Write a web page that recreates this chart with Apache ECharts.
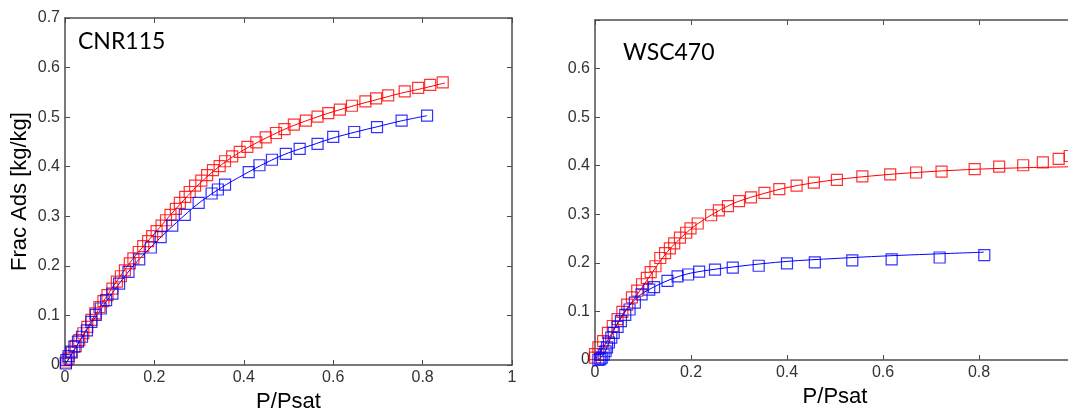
<!DOCTYPE html>
<html>
<head>
<meta charset="utf-8">
<script src="https://cdn.jsdelivr.net/npm/echarts@6/dist/echarts.min.js"></script>
<style>html,body{margin:0;padding:0;background:#fff;overflow:hidden;}#c{width:1068px;height:412px;}</style>
</head>
<body>
<div id="c"></div>
<script>
// ---------- DATA ----------
const xTicks = [0, 0.2, 0.4, 0.6, 0.8, 1];
const yTicks = [0, 0.1, 0.2, 0.3, 0.4, 0.5, 0.6, 0.7];
const panelTitles = ['CNR115', 'WSC470'];

// CNR115 – red squares (measured)
const cnrRedPts = [[0.002,0.005],[0.008,0.013],[0.015,0.025],[0.024,0.038],[0.032,0.050],[0.041,0.064],[0.050,0.077],[0.059,0.091],[0.068,0.104],[0.077,0.117],[0.086,0.129],[0.095,0.141],[0.106,0.154],[0.116,0.168],[0.125,0.179],[0.134,0.191],[0.145,0.205],[0.153,0.215],[0.165,0.228],[0.175,0.240],[0.186,0.250],[0.195,0.260],[0.205,0.270],[0.216,0.281],[0.226,0.292],[0.236,0.303],[0.248,0.315],[0.257,0.327],[0.269,0.339],[0.279,0.349],[0.291,0.362],[0.305,0.372],[0.318,0.383],[0.331,0.393],[0.346,0.401],[0.358,0.411],[0.374,0.421],[0.391,0.430],[0.408,0.440],[0.428,0.449],[0.449,0.459],[0.472,0.468],[0.491,0.476],[0.512,0.485],[0.539,0.493],[0.565,0.501],[0.589,0.508],[0.615,0.515],[0.642,0.523],[0.672,0.532],[0.696,0.538],[0.723,0.544],[0.760,0.552],[0.790,0.559],[0.817,0.565],[0.845,0.570]];
// CNR115 – red fit line
const cnrRedFit = [[0,0],[0.05,0.075],[0.1,0.148],[0.15,0.212],[0.2,0.265],[0.25,0.317],[0.3,0.365],[0.35,0.404],[0.4,0.434],[0.45,0.458],[0.5,0.479],[0.55,0.496],[0.6,0.511],[0.65,0.524],[0.7,0.536],[0.75,0.548],[0.8,0.558],[0.85,0.569]];
// CNR115 – blue squares
const cnrBluePts = [[0.002,0.003],[0.003,0.010],[0.008,0.018],[0.014,0.027],[0.021,0.037],[0.029,0.047],[0.038,0.057],[0.049,0.070],[0.059,0.087],[0.069,0.101],[0.080,0.114],[0.092,0.131],[0.106,0.144],[0.121,0.164],[0.142,0.188],[0.166,0.213],[0.192,0.237],[0.214,0.258],[0.240,0.281],[0.268,0.303],[0.299,0.327],[0.328,0.346],[0.342,0.354],[0.358,0.364],[0.411,0.389],[0.435,0.403],[0.463,0.414],[0.494,0.426],[0.525,0.436],[0.565,0.446],[0.600,0.460],[0.647,0.470],[0.698,0.480],[0.753,0.493],[0.810,0.503]];
// CNR115 – blue fit line
const cnrBlueFit = [[0,0],[0.05,0.072],[0.1,0.138],[0.15,0.197],[0.2,0.245],[0.25,0.288],[0.3,0.327],[0.35,0.358],[0.4,0.384],[0.45,0.408],[0.5,0.428],[0.55,0.443],[0.6,0.458],[0.65,0.470],[0.7,0.481],[0.75,0.492],[0.81,0.503]];

// WSC470 – red squares
const wscRedPts = [[0.0,0.005],[0.0,0.012],[0.007,0.026],[0.017,0.039],[0.027,0.056],[0.037,0.070],[0.047,0.084],[0.057,0.099],[0.067,0.114],[0.077,0.129],[0.088,0.143],[0.098,0.156],[0.108,0.169],[0.116,0.181],[0.126,0.193],[0.136,0.210],[0.146,0.220],[0.156,0.230],[0.165,0.240],[0.177,0.252],[0.190,0.262],[0.199,0.271],[0.214,0.281],[0.242,0.298],[0.258,0.308],[0.277,0.317],[0.300,0.327],[0.325,0.335],[0.353,0.344],[0.384,0.352],[0.420,0.359],[0.456,0.365],[0.504,0.371],[0.557,0.378],[0.615,0.382],[0.669,0.386],[0.722,0.388],[0.791,0.393],[0.842,0.398],[0.892,0.401],[0.933,0.407],[0.966,0.414],[0.989,0.420]];
// WSC470 – red fit line
const wscRedFit = [[0,0],[0.02,0.03],[0.05,0.08],[0.1,0.152],[0.15,0.222],[0.2,0.27],[0.25,0.303],[0.3,0.327],[0.4,0.355],[0.5,0.371],[0.6,0.381],[0.7,0.388],[0.8,0.393],[0.9,0.396],[1.0,0.398]];
// WSC470 – blue squares
const wscBluePts = [[0.007,0.0],[0.011,0.002],[0.014,0.005],[0.018,0.011],[0.022,0.018],[0.025,0.026],[0.029,0.036],[0.034,0.046],[0.039,0.056],[0.047,0.068],[0.054,0.080],[0.063,0.093],[0.072,0.104],[0.083,0.118],[0.097,0.135],[0.113,0.145],[0.123,0.150],[0.151,0.163],[0.172,0.172],[0.194,0.176],[0.217,0.182],[0.250,0.186],[0.287,0.190],[0.341,0.194],[0.400,0.199],[0.458,0.201],[0.536,0.205],[0.618,0.207],[0.718,0.211],[0.811,0.216]];
// WSC470 – blue fit line
const wscBlueFit = [[0,0],[0.01,0.003],[0.02,0.015],[0.03,0.039],[0.04,0.063],[0.06,0.097],[0.08,0.121],[0.1,0.138],[0.15,0.163],[0.2,0.179],[0.3,0.193],[0.4,0.203],[0.5,0.209],[0.6,0.214],[0.7,0.218],[0.81,0.222]];

// ---------- CHART ----------
const RED = '#ff0000', BLUE = '#0000ff';
const AX = '#4d4d4d';
const FONT = '"Liberation Sans", Arial, sans-serif';

function xAxisCfg(gi, pos, showName) {
  return {
    type: 'value', gridIndex: gi, position: pos, min: xTicks[0], max: xTicks[xTicks.length-1], interval: 0.2,
    name: showName ? 'P/Psat' : '', nameLocation: 'middle', nameGap: 26,
    nameTextStyle: {fontSize: 22, color: '#000', fontFamily: FONT},
    axisLine: {show: true, onZero: false, lineStyle: {color: AX, width: 1.5}},
    axisTick: {show: true, inside: true, length: 5, lineStyle: {color: AX, width: 1}},
    axisLabel: {show: pos === 'bottom', fontSize: 16, color: '#333', fontFamily: FONT, margin: 5},
    splitLine: {show: false}
  };
}
function yAxisCfg(gi, pos, name, hideTop) {
  return {
    type: 'value', gridIndex: gi, position: pos, min: yTicks[0], max: yTicks[yTicks.length-1], interval: 0.1,
    name: name, nameLocation: 'middle', nameGap: 34,
    nameTextStyle: {fontSize: 22, color: '#000', fontFamily: FONT},
    axisLine: {show: true, onZero: false, lineStyle: {color: AX, width: 1.5}},
    axisTick: {show: true, inside: true, length: 5, lineStyle: {color: AX, width: 1}},
    axisLabel: {show: pos === 'left', fontSize: 16, color: '#333', fontFamily: FONT, margin: 5,
      formatter: function (v) { return (hideTop && Math.abs(v - 0.7) < 1e-9) ? '' : String(+v.toFixed(1)); }},
    splitLine: {show: false}
  };
}
function scatter(xi, yi, data, color) {
  return {type: 'scatter', xAxisIndex: xi, yAxisIndex: yi, data: data, symbol: 'rect', symbolSize: 11,
    itemStyle: {color: 'rgba(0,0,0,0)', borderColor: color, borderWidth: 1.2}, z: 3, silent: true};
}
function fit(xi, yi, data, color) {
  return {type: 'line', xAxisIndex: xi, yAxisIndex: yi, data: data, smooth: 0.3, showSymbol: false,
    lineStyle: {color: color, width: 1}, z: 2, silent: true};
}

const chart = echarts.init(document.getElementById('c'), null, {renderer: 'canvas'});
chart.setOption({
  animation: false,
  backgroundColor: '#fff',
  title: [
    {text: panelTitles[0], left: 78, top: 30, padding: 0, textStyle: {fontSize: 23, fontWeight: 'normal', color: '#000', fontFamily: 'Lato, "Open Sans", sans-serif'}},
    {text: panelTitles[1], left: 623, top: 41, padding: 0, textStyle: {fontSize: 23, fontWeight: 'normal', color: '#000', fontFamily: 'Lato, "Open Sans", sans-serif'}}
  ],
  grid: [
    {left: 65, top: 18, width: 447, height: 347, outerBoundsMode: 'none', containLabel: false},
    {left: 595, top: 20, width: 480, height: 340, outerBoundsMode: 'none', containLabel: false}
  ],
  xAxis: [xAxisCfg(0, 'bottom', true), xAxisCfg(0, 'top', false), xAxisCfg(1, 'bottom', true), xAxisCfg(1, 'top', false)],
  yAxis: [yAxisCfg(0, 'left', 'Frac Ads [kg/kg]', false), yAxisCfg(0, 'right', '', false), yAxisCfg(1, 'left', '', true), yAxisCfg(1, 'right', '', true)],
  series: [
    fit(0, 0, cnrRedFit, RED), fit(0, 0, cnrBlueFit, BLUE),
    scatter(0, 0, cnrRedPts, RED), scatter(0, 0, cnrBluePts, BLUE),
    fit(2, 2, wscRedFit, RED), fit(2, 2, wscBlueFit, BLUE),
    scatter(2, 2, wscRedPts, RED), scatter(2, 2, wscBluePts, BLUE)
  ]
});
</script>
</body>
</html>
